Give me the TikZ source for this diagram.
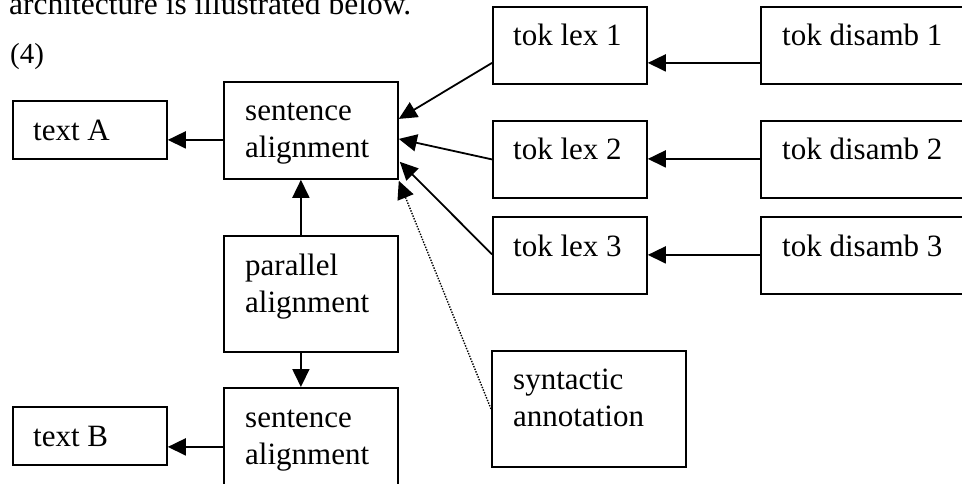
\documentclass[tikz,border=0pt]{standalone}
\usepackage{fontspec}
\setmainfont{Liberation Serif}
\usetikzlibrary{arrows.meta,calc}
\begin{document}
\begin{tikzpicture}[x=1pt,y=-1pt,
  box/.style={draw,line width=1.8pt,anchor=north west,inner sep=0pt},
  lbl/.style={anchor=base west,align=left,inner sep=0pt,font=\fontsize{31}{37}\selectfont},
  body/.style={anchor=base west,inner sep=0pt,font=\fontsize{29}{35}\selectfont},
  arr/.style={line width=1.8pt,-{Triangle[length=18pt,width=17pt]}},
  dotarr/.style={line width=1.4pt,dash pattern=on 1.4pt off 1.4pt,-{Triangle[length=18pt,width=17pt]}}
]
\useasboundingbox (0,0) rectangle (962,483);
\clip (0,0) rectangle (962,483);
\fill[white] (0,0) rectangle (962,483);

\node[body,font=\fontsize{31.5}{37}\selectfont] (intro) at (9,14) {architecture is illustrated below.};
\node[body] (num) at (10,63) {(4)};

% boxes
\node[box,minimum width=154pt,minimum height=58pt] (textA) at (12,100) {};
\node[box,minimum width=174pt,minimum height=97pt] (sentA) at (223,81) {};
\node[box,minimum width=174pt,minimum height=116pt] (par) at (223,235) {};
\node[box,minimum width=174pt,minimum height=110pt] (sentB) at (223,387) {};
\node[box,minimum width=154pt,minimum height=58pt] (textB) at (12,406) {};
\node[box,minimum width=154pt,minimum height=77pt] (lex1) at (492,6) {};
\node[box,minimum width=154pt,minimum height=77pt] (lex2) at (492,120) {};
\node[box,minimum width=154pt,minimum height=77pt] (lex3) at (492,216) {};
\node[box,minimum width=230pt,minimum height=77pt] (dis1) at (760,6) {};
\node[box,minimum width=230pt,minimum height=77pt] (dis2) at (760,120) {};
\node[box,minimum width=230pt,minimum height=77pt] (dis3) at (760,216) {};
\node[box,minimum width=194pt,minimum height=116pt] (synt) at (491,350) {};

% labels (base anchor of a two-line label is its last line)
\node[lbl] (textAl) at (33,140) {text A};
\node[lbl] (sentAl) at (245,157) {sentence\\alignment};
\node[lbl] (parl) at (245,312) {parallel\\alignment};
\node[lbl] (sentBl) at (245,464) {sentence\\alignment};
\node[lbl] (textBl) at (33,446) {text B};
\node[lbl] (lex1l) at (513,45) {tok lex 1};
\node[lbl] (lex2l) at (513,159) {tok lex 2};
\node[lbl] (lex3l) at (513,256) {tok lex 3};
\node[lbl] (dis1l) at (782,45) {tok disamb 1};
\node[lbl] (dis2l) at (782,159) {tok disamb 2};
\node[lbl] (dis3l) at (782,256) {tok disamb 3};
\node[lbl] (syntl) at (513,426) {syntactic\\annotation};

% connectors
\draw[arr] ($(sentA.west)+(0,9.5)$) -- ($(textA.east)+(0,10)$);
\draw[arr] ($(sentB.west)+(0,4)$) -- ($(textB.east)+(0,11)$);
\draw[arr] ($(par.north)+(-10,0)$) -- ($(sentA.south)+(-10,0)$);
\draw[arr] ($(par.south)+(-10,0)$) -- ($(sentB.north)+(-10,0)$);
\draw[arr] ($(lex1.west)+(0,17.5)$) -- ($(sentA.east)+(0,-11.5)$);
\draw[arr] (lex2.west) -- ($(sentA.east)+(0,8.5)$);
\draw[arr] ($(lex3.west)+(0,-1)$) -- ($(sentA.south east)+(1,-18)$);
\draw[dotarr] (synt.west) -- ($(sentA.south east)+(0,1)$);
\draw[arr] ($(dis1.west)+(0,17.5)$) -- ($(lex1.east)+(0,17.5)$);
\draw[arr] ($(dis2.west)+(0,-0.5)$) -- ($(lex2.east)+(0,-0.5)$);
\draw[arr] ($(dis3.west)+(0,-0.5)$) -- ($(lex3.east)+(0,-0.5)$);
\end{tikzpicture}
\end{document}
